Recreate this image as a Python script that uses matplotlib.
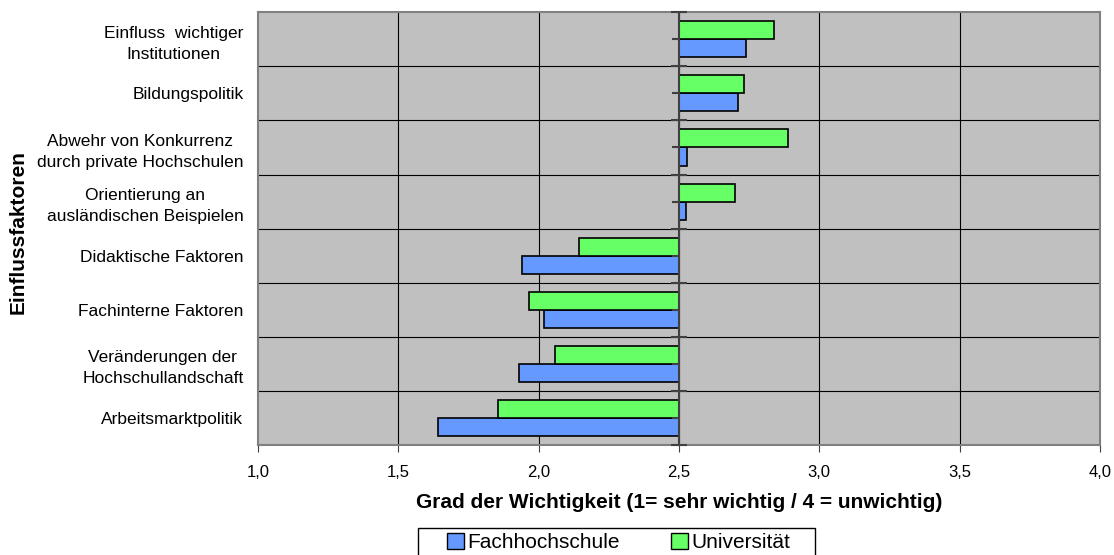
import numpy as np
import matplotlib.pyplot as plt
from matplotlib.patches import Rectangle

plt.rcParams['font.family'] = ['Liberation Sans', 'DejaVu Sans']

kategorien = ['Einfluss  wichtiger\nInstitutionen', 'Bildungspolitik',
              'Abwehr von Konkurrenz\ndurch private Hochschulen',
              'Orientierung an\nausländischen Beispielen',
              'Didaktische Faktoren', 'Fachinterne Faktoren',
              'Veränderungen der\nHochschullandschaft', 'Arbeitsmarktpolitik']
fachhochschule = [2.74, 2.71, 2.53, 2.525, 1.94, 2.02, 1.93, 1.64]
universitaet = [2.84, 2.73, 2.89, 2.70, 2.145, 1.965, 2.06, 1.855]
basis = 2.5
xticks = [1.0, 1.5, 2.0, 2.5, 3.0, 3.5, 4.0]

fig = plt.figure(figsize=(11.14, 5.55), dpi=100)
ax = fig.add_axes([0.2316, 0.198, 0.7558, 0.780])
ax.set_facecolor('#C0C0C0')

y = np.arange(len(kategorien))
h = 0.333
ax.barh(y + h/2, np.array(fachhochschule) - basis, left=basis, height=h,
        color='#6699FF', edgecolor='black', linewidth=1.2, label='Fachhochschule', zorder=3)
ax.barh(y - h/2, np.array(universitaet) - basis, left=basis, height=h,
        color='#66FF66', edgecolor='black', linewidth=1.2, label='Universität', zorder=3)

ax.set_xlim(1.0, 4.0)
ax.set_ylim(len(kategorien) - 0.5, -0.5)
ax.set_xticks(xticks)
ax.set_xticklabels([f'{v:.1f}'.replace('.', ',') for v in xticks], fontsize=12)
ax.set_yticks(y)
ax.set_yticklabels(kategorien, fontsize=12.5, multialignment='center', linespacing=1.5)
ax.tick_params(axis='y', length=0, pad=10.5)
ax.tick_params(axis='x', length=5, direction='out', pad=9, color='#404040')

# gitter
for x in xticks[1:-1]:
    ax.axvline(x, color='black', linewidth=0.8, zorder=1)
for b in np.arange(0.5, len(kategorien) - 0.5, 1.0):
    ax.axhline(b, color='black', linewidth=0.8, zorder=1)

# y-achse bei 2,5
ax.axvline(basis, color='#404040', linewidth=1.5, zorder=4)
grenzen = np.arange(-0.5, len(kategorien), 1.0)
ax.plot([basis] * len(grenzen), grenzen, linestyle='none', marker='_',
        markersize=12, markeredgewidth=1.5, color='#404040', zorder=5, clip_on=False)
ax.plot([basis] * len(y), y, linestyle='none', marker=0,
        markersize=5, markeredgewidth=1.5, color='#404040', zorder=5)

for s in ax.spines.values():
    s.set_color('#808080')
    s.set_linewidth(1.5)

ax.set_xlabel('Grad der Wichtigkeit (1= sehr wichtig / 4 = unwichtig)',
              fontsize=15, fontweight='bold', labelpad=10)
fig.text(0.016, 0.582, 'Einflussfaktoren', rotation=90, fontsize=15,
         fontweight='bold', ha='center', va='center')

# legende
handles, labels = ax.get_legend_handles_labels()
leg = fig.legend(handles, labels, loc='upper left', bbox_to_anchor=(447 / 1114, 1 - 533 / 555),
                 ncol=2, fontsize=15, frameon=False, borderpad=0, borderaxespad=0,
                 handlelength=0.8, handleheight=0.8, handletextpad=0.15,
                 columnspacing=2.5)
for hd in leg.legend_handles:
    hd.set_edgecolor('black')
    hd.set_linewidth(1.0)
fig.patches.append(Rectangle((418 / 1114, -0.05), 397 / 1114, 0.05 + 1 - 528 / 555,
                             transform=fig.transFigure, fill=False,
                             edgecolor='black', linewidth=1.0))

fig.savefig('out.png', dpi=100)
